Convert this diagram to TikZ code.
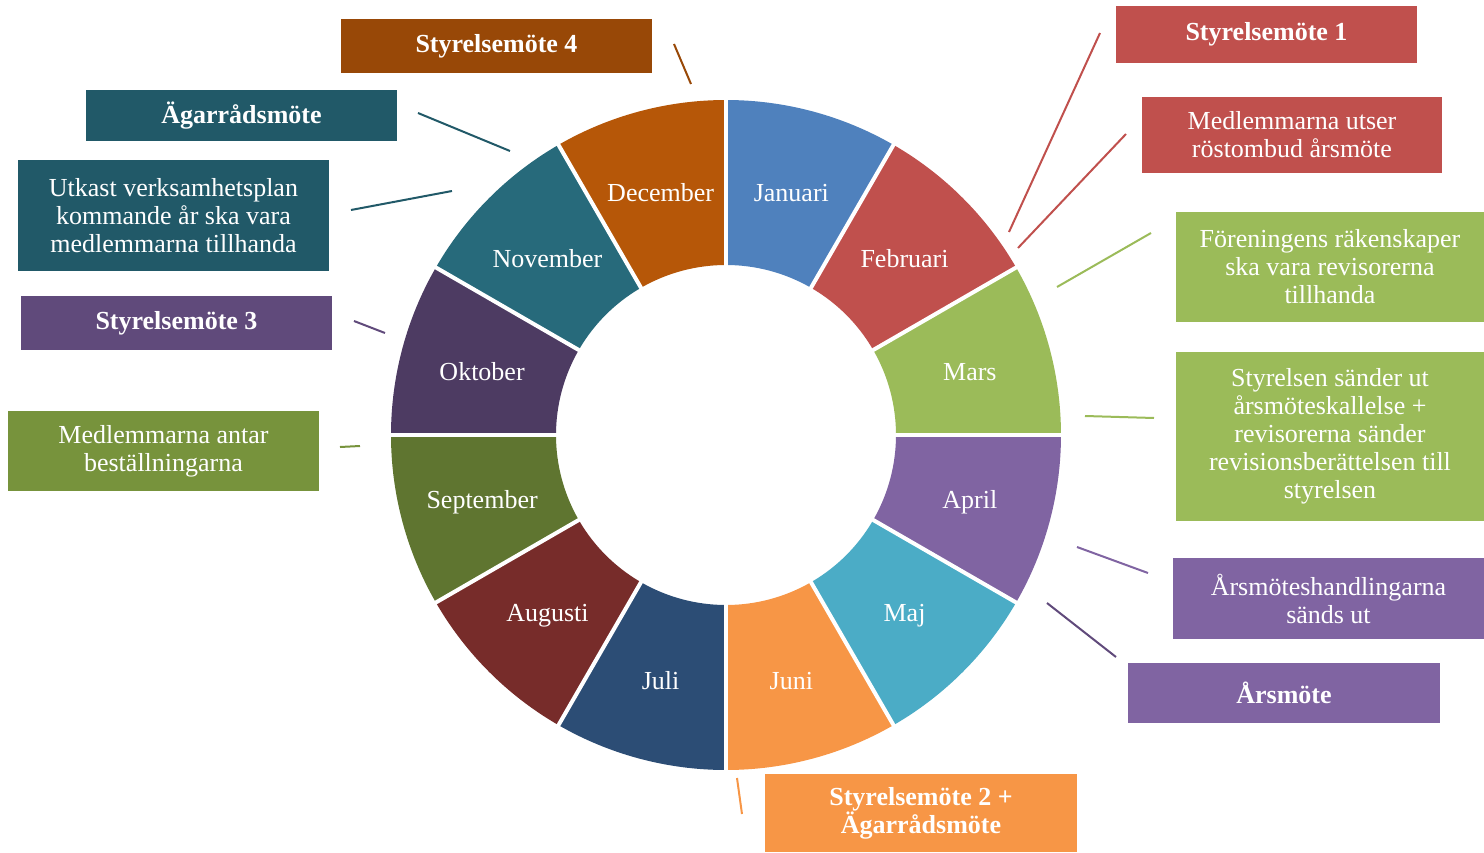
\documentclass[tikz,border=0pt]{standalone}
\usepackage{fontspec}
\setmainfont{Liberation Serif}
\definecolor{jan}{HTML}{4F81BD}
\definecolor{feb}{HTML}{C0504D}
\definecolor{mar}{HTML}{9BBB59}
\definecolor{apr}{HTML}{8064A2}
\definecolor{maj}{HTML}{4BACC6}
\definecolor{jun}{HTML}{F79646}
\definecolor{jul}{HTML}{2C4D75}
\definecolor{aug}{HTML}{772C2A}
\definecolor{sep}{HTML}{5F7530}
\definecolor{okt}{HTML}{4D3B62}
\definecolor{nov}{HTML}{276A7B}
\definecolor{dec}{HTML}{B65708}
\definecolor{rust}{HTML}{984807}
\definecolor{petrol}{HTML}{215968}
\definecolor{plum}{HTML}{604A7B}
\definecolor{moss}{HTML}{77933C}
\begin{document}
\begin{tikzpicture}[x=1pt, y=1pt,
    month/.style={text=white, yshift=-2, font=\fontsize{26}{28}\selectfont},
    box/.style={fill=#1, text=white, align=center, inner sep=0pt, font=\fontsize{26}{28}\selectfont},
    boldbox/.style={box=#1, font=\fontsize{26}{28}\selectfont\bfseries},
    link/.style={draw=#1, line width=2}]
  \useasboundingbox (-726, -417) rectangle (758, 435);
  \foreach \m/\c [count=\i] in {Januari/jan, Februari/feb, Mars/mar, April/apr, Maj/maj, Juni/jun,
      Juli/jul, Augusti/aug, September/sep, Oktober/okt, November/nov, December/dec} {
    \pgfmathsetmacro{\a}{120 - 30*\i}
    \pgfmathsetmacro{\b}{\a - 30}
    \fill[\c] (\a:170) arc[start angle=\a, end angle=\b, radius=170]
      -- (\b:335) arc[start angle=\b, end angle=\a, radius=335] -- cycle;
    \node[month] (\m) at (\a - 15:252.5) {\m};
  }
  \foreach \a in {0, 30, ..., 330}
    \draw[white, line width=4] (\a:165) -- (\a:340);

  \node[boldbox=rust, minimum width=311, minimum height=54] (sm4) at (-229.5, 389) {Styrelsemöte 4};
  \node[boldbox=petrol, minimum width=311, minimum height=51] (agm) at (-484.5, 319.5) {Ägarrådsmöte};
  \node[box=petrol, minimum width=311, minimum height=111] (utkast) at (-552.5, 219.5)
    {Utkast verksamhetsplan\\kommande år ska vara\\medlemmarna tillhanda};
  \node[boldbox=plum, minimum width=311, minimum height=54] (sm3) at (-549.5, 112) {Styrelsemöte 3};
  \node[box=moss, minimum width=311, minimum height=80] (antar) at (-562.5, -16)
    {Medlemmarna antar\\beställningarna};
  \node[boldbox=feb, minimum width=301, minimum height=57] (sm1) at (540.5, 400.5) {Styrelsemöte 1};
  \node[box=feb, minimum width=300, minimum height=76] (utser) at (566, 300)
    {Medlemmarna utser\\röstombud årsmöte};
  \node[box=mar, minimum width=308, minimum height=110] (rakenskap) at (604, 168)
    {Föreningens räkenskaper\\ska vara revisorerna\\tillhanda};
  \node[box=mar, minimum width=308, minimum height=169] (kallelse) at (604, -1.5)
    {Styrelsen sänder ut\\årsmöteskallelse +\\revisorerna sänder\\revisionsberättelsen till\\styrelsen};
  \node[box=apr, minimum width=311, minimum height=81] (handl) at (602.5, -163.5)
    {Årsmöteshandlingarna\\sänds ut};
  \node[boldbox=apr, minimum width=312, minimum height=60] (arsmote) at (558, -258) {Årsmöte};
  \node[boldbox=jun, minimum width=312, minimum height=78] (sm2) at (195, -378)
    {Styrelsemöte 2 +\\Ägarrådsmöte};

  \coordinate (sm4-a) at (-52, 391);      \coordinate (sm4-b) at (-35, 351);
  \coordinate (agm-a) at (-308, 322);     \coordinate (agm-b) at (-216, 284);
  \coordinate (utkast-a) at (-375, 225);  \coordinate (utkast-b) at (-274, 244);
  \coordinate (sm3-a) at (-372, 114);     \coordinate (sm3-b) at (-341, 102);
  \coordinate (antar-a) at (-386, -12);   \coordinate (antar-b) at (-366, -11);
  \coordinate (sm1-a) at (374, 402);      \coordinate (sm1-b) at (283, 203);
  \coordinate (utser-a) at (400, 301);    \coordinate (utser-b) at (292, 187);
  \coordinate (rak-a) at (425, 202);      \coordinate (rak-b) at (331, 148);
  \coordinate (kall-a) at (428, 17);      \coordinate (kall-b) at (359, 19);
  \coordinate (handl-a) at (422, -138);   \coordinate (handl-b) at (351, -112);
  \coordinate (ars-a) at (390, -222);     \coordinate (ars-b) at (321, -168);
  \coordinate (sm2-a) at (16, -379);      \coordinate (sm2-b) at (11, -343);

  \draw[link=rust] (sm4-a) -- (sm4-b);
  \draw[link=petrol] (agm-a) -- (agm-b);
  \draw[link=petrol] (utkast-a) -- (utkast-b);
  \draw[link=plum] (sm3-a) -- (sm3-b);
  \draw[link=moss] (antar-a) -- (antar-b);
  \draw[link=feb] (sm1-a) -- (sm1-b);
  \draw[link=feb] (utser-a) -- (utser-b);
  \draw[link=mar] (rak-a) -- (rak-b);
  \draw[link=mar] (kall-a) -- (kall-b);
  \draw[link=apr] (handl-a) -- (handl-b);
  \draw[link=plum] (ars-a) -- (ars-b);
  \draw[link=jun] (sm2-a) -- (sm2-b);
\end{tikzpicture}
\end{document}
